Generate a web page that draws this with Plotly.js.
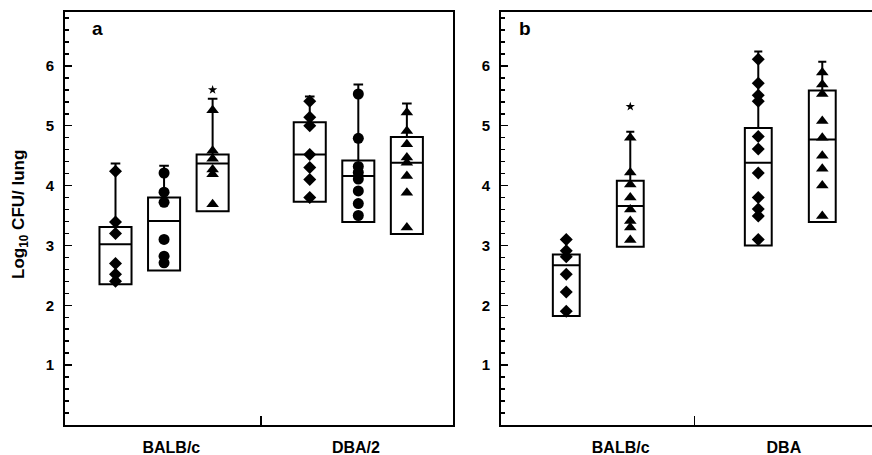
<!DOCTYPE html>
<html>
<head>
<meta charset="utf-8">
<script src="https://cdn.plot.ly/plotly-3.0.1.min.js"></script>
<style>
html, body { margin: 0; padding: 0; overflow: hidden; background: #fff; }
#chart { width: 900px; height: 455px; }
</style>
</head>
<body>
<div id="chart"></div>
<script>
// ---------- Data ----------
// Panel a
const groupLabelsA = ["BALB/c", "DBA/2"];
const boxPosA = [1, 2, 3, 5, 6, 7];
const symbolsA = ["diamond", "circle", "triangle-up", "diamond", "circle", "triangle-up"];
const q1A = [2.35, 2.58, 3.57, 3.73, 3.39, 3.19];
const medianA = [3.02, 3.41, 4.37, 4.52, 4.16, 4.38];
const q3A = [3.31, 3.80, 4.52, 5.06, 4.42, 4.81];
const upperA = [4.37, 4.33, 5.45, 5.49, 5.69, 5.37];
const pointsA1 = [4.24, 3.39, 3.20, 2.70, 2.52, 2.40];
const pointsA2 = [4.21, 3.89, 3.72, 3.10, 2.82, 2.71];
const pointsA3 = [5.26, 4.58, 4.45, 4.27, 4.19, 3.69];
const pointsA4 = [5.41, 5.14, 5.00, 4.52, 4.30, 4.10, 3.80];
const pointsA5 = [5.53, 4.79, 4.32, 4.22, 4.11, 3.91, 3.70, 3.50];
const pointsA6 = [5.22, 4.91, 4.69, 4.47, 4.38, 4.16, 3.88, 3.30];
const starPosA = [3];
const starValA = [5.60];

// Panel b
const groupLabelsB = ["BALB/c", "DBA"];
const boxPosB = [1, 2, 4, 5];
const symbolsB = ["diamond", "triangle-up", "diamond", "triangle-up"];
const q1B = [1.82, 2.98, 3.00, 3.39];
const medianB = [2.67, 3.66, 4.38, 4.77];
const q3B = [2.85, 4.08, 4.96, 5.59];
const upperB = [3.12, 4.90, 6.24, 6.07];
const pointsB1 = [3.10, 2.91, 2.81, 2.52, 2.22, 1.90];
const pointsB2 = [4.80, 4.22, 4.02, 3.80, 3.60, 3.41, 3.30, 3.09];
const pointsB3 = [6.11, 5.71, 5.51, 5.41, 4.82, 4.61, 4.21, 3.80, 3.61, 3.49, 3.10];
const pointsB4 = [5.89, 5.69, 5.53, 5.08, 4.80, 4.50, 4.28, 4.00, 3.49];
const starPosB = [2];
const starValB = [5.32];

const yTitle = "Log<sub>10</sub> CFU/ lung";

// ---------- Build traces ----------
const FONT = "Liberation Sans, Arial, Helvetica, sans-serif";
const traces = [];

function addPanel(xa, ya, pos, q1, med, q3, upper, pointSets, symbols, starPos, starVal, boxWidth) {
  traces.push({
    type: "box", xaxis: xa, yaxis: ya,
    x: pos, q1: q1, median: med, q3: q3,
    lowerfence: q1, upperfence: upper,
    width: boxWidth, whiskerwidth: 0.3,
    fillcolor: "rgba(0,0,0,0)",
    line: { color: "#000", width: 2 },
    boxpoints: false, showlegend: false, hoverinfo: "skip"
  });
  pointSets.forEach((vals, i) => {
    const sym = symbols[i];
    const size = sym === "diamond" ? 10 : 11;
    traces.push({
      type: "scatter", mode: "markers", xaxis: xa, yaxis: ya,
      x: vals.map(() => pos[i]), y: vals,
      marker: { symbol: sym, size: size, color: "#000", line: { width: 0 } },
      showlegend: false, hoverinfo: "skip"
    });
  });
  traces.push({
    type: "scatter", mode: "markers", xaxis: xa, yaxis: ya,
    x: starPos, y: starVal,
    marker: { symbol: "star", size: 7, color: "#000" },
    showlegend: false, hoverinfo: "skip"
  });
}

addPanel("x", "y", boxPosA, q1A, medianA, q3A, upperA,
  [pointsA1, pointsA2, pointsA3, pointsA4, pointsA5, pointsA6], symbolsA, starPosA, starValA, 0.66);
addPanel("x2", "y2", boxPosB, q1B, medianB, q3B, upperB,
  [pointsB1, pointsB2, pointsB3, pointsB4], symbolsB, starPosB, starValB, 0.42);

const W = 900, H = 455;
const yTickFont = { family: FONT, size: 15, color: "#000", weight: 700 };
const xTickFont = { family: FONT, size: 16, color: "#000", weight: 700 };

function yAxis(anchor) {
  return {
    anchor: anchor, domain: [30 / H, 443 / H], range: [0, 6.9],
    tickvals: [1, 2, 3, 4, 5, 6], ticks: "inside", ticklen: 7, tickwidth: 1.5, tickcolor: "#000",
    minor: { dtick: 0.2, tick0: 0, ticks: "inside", ticklen: 4, tickwidth: 1.5, tickcolor: "#000" },
    showline: true, linewidth: 2, linecolor: "#000", mirror: true,
    showgrid: false, zeroline: false, tickfont: yTickFont, ticklabelstandoff: 6
  };
}
function xAxis(anchor, domain, range, labelPos, labels, midTick) {
  return {
    anchor: anchor, domain: domain, range: range,
    tickvals: labelPos, ticktext: labels, ticks: "",
    minor: { tickvals: [midTick], ticks: "inside", ticklen: 9, tickwidth: 1.5, tickcolor: "#000" },
    showline: true, linewidth: 2, linecolor: "#000", mirror: true,
    showgrid: false, zeroline: false, tickfont: xTickFont, ticklabelstandoff: 7
  };
}

const layout = {
  width: W, height: H,
  margin: { l: 0, r: 0, t: 0, b: 0 },
  paper_bgcolor: "#fff", plot_bgcolor: "#fff",
  showlegend: false,
  font: { family: FONT, color: "#000" },
  xaxis: xAxis("y", [65 / W, 453 / W], [-0.04, 7.95], [2.15, 5.95], groupLabelsA, 4),
  yaxis: yAxis("x"),
  xaxis2: xAxis("y2", [501 / W, 885 / W], [-0.02, 5.98], [1.85, 4.4], groupLabelsB, 3),
  yaxis2: yAxis("x2"),
  annotations: [
    { text: yTitle, xref: "paper", yref: "paper", x: 20 / W, y: 1 - 215 / H,
      xanchor: "center", yanchor: "middle", textangle: -90, showarrow: false,
      font: { family: FONT, size: 17, color: "#000", weight: 700 } },
    { text: "a", xref: "paper", yref: "paper", x: 97 / W, y: 1 - 29 / H,
      xanchor: "center", yanchor: "middle", showarrow: false,
      font: { family: FONT, size: 19, color: "#000", weight: 700 } },
    { text: "b", xref: "paper", yref: "paper", x: 525 / W, y: 1 - 29 / H,
      xanchor: "center", yanchor: "middle", showarrow: false,
      font: { family: FONT, size: 19, color: "#000", weight: 700 } }
  ]
};

Plotly.newPlot("chart", traces, layout, { staticPlot: true, displayModeBar: false });
</script>
</body>
</html>
